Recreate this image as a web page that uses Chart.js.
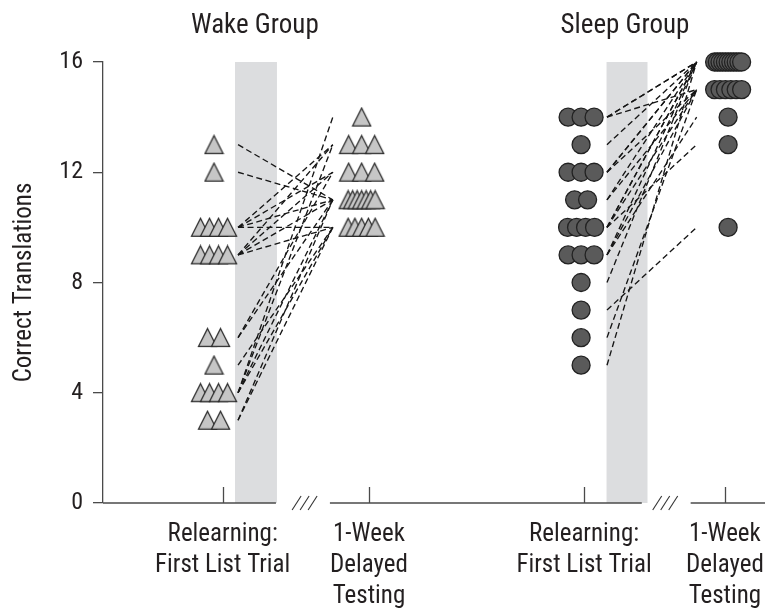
<!DOCTYPE html>
<html>
<head>
<meta charset="utf-8">
<script src="https://cdn.jsdelivr.net/npm/chart.js@4.4.1/dist/chart.umd.min.js"></script>
<style>
  html, body { margin: 0; padding: 0; background: #fff; }
  canvas { display: block; }
</style>
</head>
<body>
<canvas id="chart" width="765" height="611"></canvas>
<script>
// Group headings and session labels
const groupTitles = ['Wake Group', 'Sleep Group'];
const sessionLabels = [['Relearning:', 'First List Trial'], ['1-Week', 'Delayed', 'Testing']];
const yTickValues = [0, 4, 8, 12, 16];
const yTitle = 'Correct Translations';

// Per-participant scores (first relearning trial, 1-week delayed test)
const wakeFirst    = [13, 12, 10, 10, 10, 10, 9, 9, 9, 9, 6, 6, 5, 4, 4, 4, 4, 3, 3];
const wakeDelayed  = [11, 11, 10, 12, 13, 11, 10, 12, 11, 13, 12, 11, 10, 14, 13, 11, 10, 10, 11];
const sleepFirst   = [14, 14, 14, 13, 12, 12, 12, 11, 11, 10, 10, 10, 10, 9, 9, 9, 8, 7, 6, 5];
const sleepDelayed = [16, 15, 16, 16, 16, 15, 16, 16, 15, 16, 15, 13, 16, 16, 15, 14, 16, 10, 15, 16];

// ---- layout (x in "session" units; 1 unit = spacing between wake sessions) ----
const X_MIN = 0.1818, X_MAX = 4.632;
const PX = 1 / 146.3;                       // one pixel in x units
const sessionTicks = [1, 2, 3.47, 4.433];   // wake first, wake delayed, sleep first, sleep delayed
const markerCenters = [0.941, 1.95, 3.45, 4.455];
const wakeLine = [1.105, 1.753], sleepLine = [3.627, 4.24];
const bands = [[1.084, 1.371], [3.624, 3.904]];
const axisSegments = [[X_MIN, 1.364], [1.733, 3.865], [4.199, null]];  // null: run to the canvas edge
const breakMarks = [1.56, 4.025];
const titleCenters = [1.22, 3.75];

const FONT = '"Liberation Sans Narrow", "Roboto Condensed", "DejaVu Sans Condensed", "Liberation Sans", sans-serif';
const INK = '#231f20';
const AXIS = '#4a4a4a';

// spread tied scores horizontally around a column centre
function spread(values, center) {
  const counts = {}, seen = {};
  values.forEach(v => counts[v] = (counts[v] || 0) + 1);
  return values.map(v => {
    const n = counts[v];
    const i = (seen[v] = (seen[v] || 0) + 1) - 1;
    const step = n > 1 ? Math.min(13, 27 / (n - 1)) * PX : 0;
    return { x: center + (i - (n - 1) / 2) * step, y: v };
  });
}

// triangle marker image
function triangleMarker() {
  const c = document.createElement('canvas');
  c.width = 21; c.height = 21;
  const g = c.getContext('2d');
  g.beginPath();
  g.moveTo(10.5, 1.5);
  g.lineTo(19.5, 19.3);
  g.lineTo(1.5, 19.3);
  g.closePath();
  g.fillStyle = '#c6c6c6';
  g.fill();
  g.lineWidth = 1.3;
  g.strokeStyle = '#2b2b2b';
  g.stroke();
  return c;
}
const tri = triangleMarker();

function pairLines(first, delayed, span) {
  return first.map((v, i) => ({
    data: [{ x: span[0], y: v }, { x: span[1], y: delayed[i] }],
    showLine: true,
    borderColor: '#161616',
    borderWidth: 1.35,
    borderDash: [6, 3.5],
    pointRadius: 0,
    pointHoverRadius: 0,
    fill: false,
    clip: false
  }));
}

const datasets = [
  ...pairLines(wakeFirst, wakeDelayed, wakeLine),
  ...pairLines(sleepFirst, sleepDelayed, sleepLine),
  { data: spread(wakeFirst, markerCenters[0]), pointStyle: tri, pointRadius: 10, clip: false },
  { data: spread(wakeDelayed, markerCenters[1]), pointStyle: tri, pointRadius: 10, clip: false },
  { data: spread(sleepFirst, markerCenters[2]), pointStyle: 'circle', pointRadius: 9,
    backgroundColor: '#5a5a5a', borderColor: '#222', borderWidth: 1.3, clip: false },
  { data: spread(sleepDelayed, markerCenters[3]), pointStyle: 'circle', pointRadius: 9,
    backgroundColor: '#5a5a5a', borderColor: '#222', borderWidth: 1.3, clip: false }
];

const decorations = {
  id: 'decorations',
  beforeDatasetsDraw(chart) {
    const { ctx, scales: { x, y } } = chart;
    ctx.save();
    ctx.fillStyle = '#dcdddf';
    bands.forEach(([a, b]) => {
      const l = x.getPixelForValue(a), r = x.getPixelForValue(b);
      ctx.fillRect(l, y.getPixelForValue(16), r - l, y.getPixelForValue(0) - y.getPixelForValue(16));
    });
    ctx.restore();
  },
  afterDatasetsDraw(chart) {
    const { ctx, scales: { x, y } } = chart;
    const base = y.getPixelForValue(0);
    ctx.save();
    ctx.strokeStyle = AXIS;
    ctx.lineWidth = 1.3;
    // broken x axis
    axisSegments.forEach(([a, b]) => {
      ctx.beginPath();
      ctx.moveTo(x.getPixelForValue(a), base);
      ctx.lineTo(b === null ? chart.width : x.getPixelForValue(b), base);
      ctx.stroke();
    });
    // inward session ticks
    sessionTicks.forEach(v => {
      const px = Math.round(x.getPixelForValue(v)) + 0.5;
      ctx.beginPath();
      ctx.moveTo(px, base);
      ctx.lineTo(px, base - 16);
      ctx.stroke();
    });
    // break marks
    ctx.lineWidth = 1.1;
    ctx.strokeStyle = '#333';
    breakMarks.forEach(v => {
      const cx = x.getPixelForValue(v);
      for (let k = -1; k <= 1; k++) {
        const sx = cx + k * 8;
        ctx.beginPath();
        ctx.moveTo(sx - 4.5, base + 7);
        ctx.lineTo(sx + 4.5, base - 7);
        ctx.stroke();
      }
    });
    // group headings
    ctx.fillStyle = INK;
    ctx.font = '27px ' + FONT;
    ctx.textAlign = 'center';
    ctx.textBaseline = 'alphabetic';
    groupTitles.forEach((t, i) => ctx.fillText(t, x.getPixelForValue(titleCenters[i]), 33));
    ctx.restore();
  }
};

new Chart(document.getElementById('chart'), {
  type: 'scatter',
  data: { datasets },
  options: {
    responsive: false,
    animation: false,
    devicePixelRatio: 1,
    events: [],
    layout: { padding: { top: 62, right: 0, bottom: 0, left: 0 } },
    plugins: { legend: { display: false }, tooltip: { enabled: false }, title: { display: false } },
    scales: {
      x: {
        type: 'linear',
        min: X_MIN,
        max: X_MAX,
        afterBuildTicks(s) { s.ticks = sessionTicks.map(v => ({ value: v })); },
        afterFit(s) { s.height = 108; s.paddingLeft = 0; s.paddingRight = 0; },
        ticks: {
          autoSkip: false,
          maxRotation: 0,
          minRotation: 0,
          padding: 16,
          color: INK,
          font: { family: FONT, size: 25, lineHeight: '31px' },
          callback: (v, i) => sessionLabels[i % 2]
        },
        grid: { display: false, drawTicks: false },
        border: { display: false }
      },
      y: {
        min: 0,
        max: 16,
        afterBuildTicks(s) { s.ticks = yTickValues.map(v => ({ value: v })); },
        afterFit(s) { s.width = 103; },
        ticks: { padding: 10, color: INK, font: { family: FONT, size: 24 } },
        grid: { drawOnChartArea: false, drawTicks: true, tickLength: 10, color: AXIS, lineWidth: 1.3 },
        border: { display: true, color: AXIS, width: 1.3 },
        title: {
          display: true,
          text: yTitle,
          color: INK,
          font: { family: FONT, size: 25 },
          padding: { top: 10, bottom: 0 }
        }
      }
    }
  },
  plugins: [decorations]
});
</script>
</body>
</html>
